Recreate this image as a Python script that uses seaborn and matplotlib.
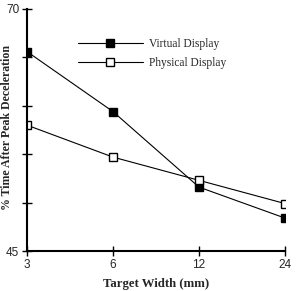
import numpy as np
import pandas as pd
import matplotlib
matplotlib.use("Agg")
import matplotlib.pyplot as plt
import seaborn as sns

widths = [3, 6, 12, 24]
virtual = [65.6, 59.4, 51.6, 48.4]
physical = [58.0, 54.7, 52.3, 49.9]
series = ["Virtual Display", "Physical Display"]

df = pd.DataFrame({
    "width": widths * 2,
    "pct": virtual + physical,
    "display": [series[0]] * 4 + [series[1]] * 4,
})

sns.set_style("white")
plt.rcParams["font.family"] = ["Liberation Serif", "DejaVu Serif"]

fig = plt.figure(figsize=(2.97, 2.91), dpi=100)
ax = fig.add_axes([27 / 297, 40 / 291, 258 / 297, 242 / 291])

sns.lineplot(data=df, x="width", y="pct", hue="display", style="display",
             palette=["black", "black"], markers=["s", "s"], dashes=False,
             linewidth=0.8, markersize=5.5, markeredgecolor="black",
             markeredgewidth=1.0, ax=ax, legend=False)
lines = ax.get_lines()
lines[1].set_markerfacecolor("white")

ax.set_xscale("log", base=2)
ax.set_xlim(3, 24)
ax.set_ylim(45, 70)
ax.set_xticks(widths)
ax.set_xticklabels([str(w) for w in widths], family="Liberation Sans", fontsize=8.5)
ax.xaxis.set_minor_locator(matplotlib.ticker.NullLocator())
ax.set_yticks([45, 50, 55, 60, 65, 70])
ax.set_yticklabels(["45", "", "", "", "", "70"], family="Liberation Sans", fontsize=8.5)
ax.tick_params(direction="inout", length=7, width=1, color="black", pad=2,
               bottom=True, left=True)

for s in ["top", "right"]:
    ax.spines[s].set_visible(False)
for s in ["left", "bottom"]:
    ax.spines[s].set_color("black")
    ax.spines[s].set_linewidth(1.5)

ax.set_xlabel("Target Width (mm)", fontweight="bold", fontsize=9.2, labelpad=5)
ax.set_ylabel("% Time After Peak Deceleration", fontweight="bold", fontsize=8.6)
ax.yaxis.set_label_coords(-14 / 258, 0.51)

ax.legend(lines, series, loc="upper left",
          bbox_to_anchor=(78 / 297, 1 - 38 / 291), bbox_transform=fig.transFigure,
          frameon=False, fontsize=8.3, handlelength=5.6, handletextpad=0.6,
          labelspacing=0.6, borderpad=0, borderaxespad=0)

fig.savefig("out.png", dpi=100)
